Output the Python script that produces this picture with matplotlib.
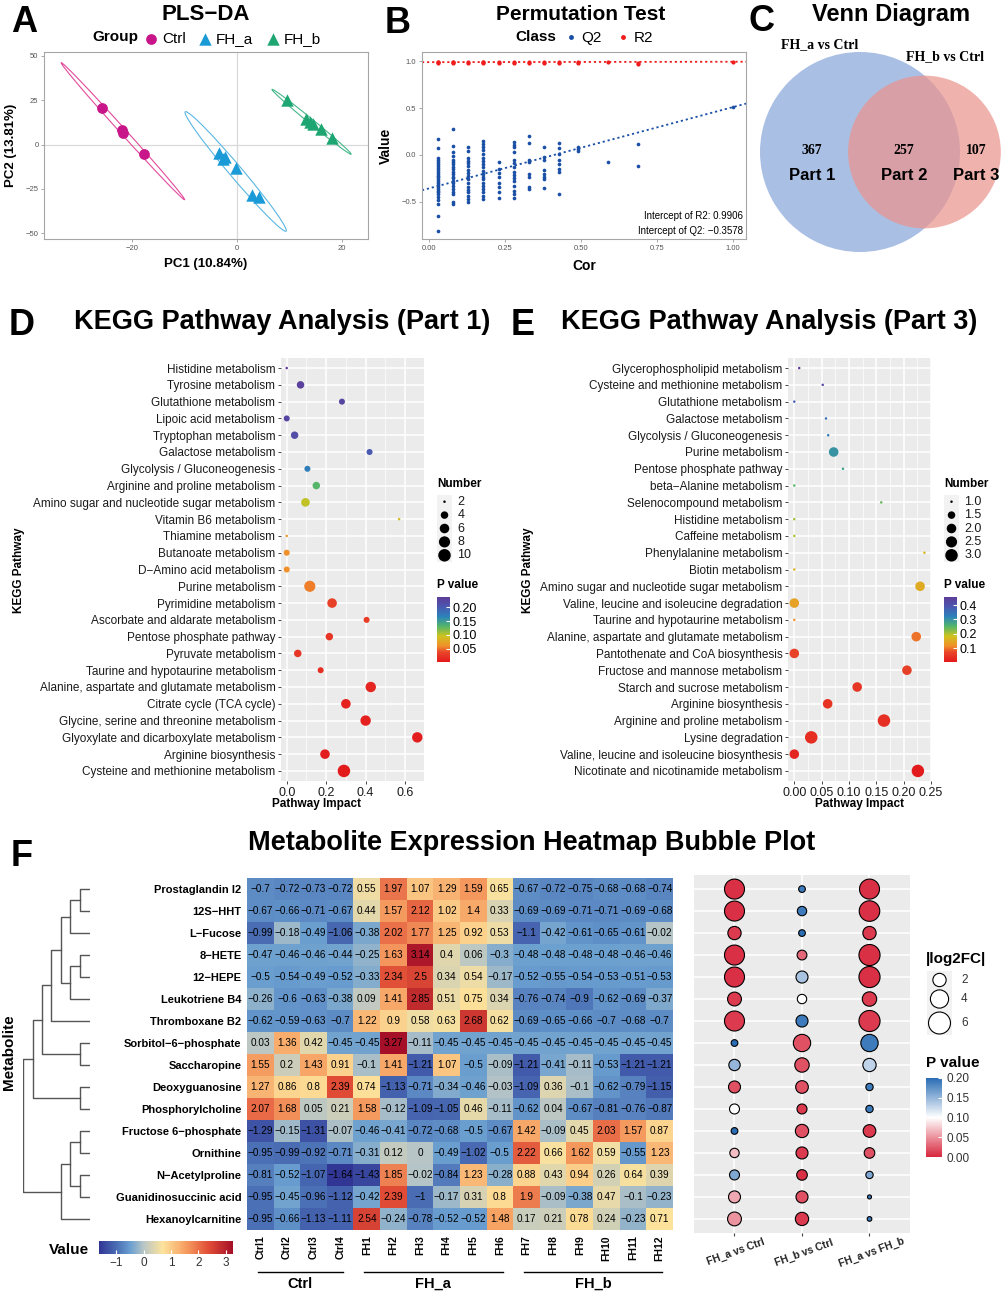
import numpy as np
import matplotlib.pyplot as plt
from matplotlib.colors import LinearSegmentedColormap, Normalize
from matplotlib.cm import ScalarMappable
from matplotlib.patches import Circle, Ellipse
from matplotlib.lines import Line2D
from matplotlib.transforms import blended_transform_factory

plt.rcParams['font.family'] = ['Liberation Sans', 'DejaVu Sans']
M = '\u2212'

# ---------------- data ----------------
# A: PLS-DA scores
ctrl_pc1 = [-25.6, -21.8, -21.7, -17.6]
ctrl_pc2 = [20.6, 8.4, 6.6, -5.6]
fha_pc1 = [-3.4, -2.6, -2.3, -0.1, 3.0, 4.2]
fha_pc2 = [-5.0, -8.2, -6.8, -13.0, -28.5, -29.5]
fhb_pc1 = [9.5, 13.2, 14.0, 14.6, 16.1, 18.1]
fhb_pc2 = [25.0, 14.6, 12.8, 11.5, 9.0, 3.9]

# B: permutation test
perm_cor = [0.03, 0.08, 0.13, 0.18, 0.23, 0.28, 0.33, 0.38, 0.43, 0.49, 0.59, 0.69, 1.00]
q2_vals = [
    [0.17, 0.07, -0.03, -0.05, -0.08, -0.1, -0.12, -0.14, -0.16, -0.18, -0.2, -0.22, -0.24,
     -0.26, -0.28, -0.3, -0.32, -0.34, -0.36, -0.38, -0.4, -0.42, -0.45, -0.48, -0.52, -0.65, -0.81],
    [0.28, 0.1, 0.03, -0.01, -0.05, -0.08, -0.1, -0.13, -0.15, -0.18, -0.2, -0.23, -0.25,
     -0.28, -0.3, -0.33, -0.36, -0.39, -0.42, -0.5, -0.52],
    [0.09, 0.04, -0.03, -0.06, -0.09, -0.12, -0.16, -0.19, -0.22, -0.26, -0.3, -0.34, -0.37,
     -0.4, -0.44, -0.47, -0.5],
    [0.15, 0.12, 0.09, 0.05, 0.01, -0.03, -0.06, -0.1, -0.13, -0.17, -0.2, -0.23, -0.26,
     -0.3, -0.33, -0.36, -0.4, -0.44, -0.47],
    [-0.08, -0.15, -0.19, -0.24, -0.3, -0.34, -0.4, -0.46],
    [0.14, 0.11, 0.08, 0.03, -0.05, -0.09, -0.13, -0.18, -0.21, -0.25, -0.28, -0.33, -0.38,
     -0.42, -0.46],
    [0.2, 0.13, -0.05, -0.08, -0.2, -0.23, -0.34, -0.36],
    [0.08, -0.02, -0.05, -0.16, -0.2, -0.23, -0.26, -0.35],
    [0.13, 0.07, 0.01, -0.05, -0.1, -0.15, -0.18, -0.42],
    [0.09, 0.06, 0.04],
    [-0.07],
    [0.12, -0.12],
    [0.51],
]
r2_vals = [[0.99, 0.985, 0.995], [0.99, 0.995, 0.985], [0.99, 0.985], [0.99, 0.98, 0.995],
           [0.99, 0.985], [0.99, 0.985], [0.99, 0.985], [0.99, 0.98], [0.99, 0.985],
           [0.985, 0.99], [0.99], [0.975, 0.985], [0.995]]
r2_intercept = 0.9906
q2_intercept = -0.3578

# C: Venn counts
only_a, both, only_b = 367, 257, 107
set_a_name, set_b_name = 'FH_a vs Ctrl', 'FH_b vs Ctrl'

# D: KEGG part 1
k1_path = ['Histidine metabolism', 'Tyrosine metabolism', 'Glutathione metabolism',
           'Lipoic acid metabolism', 'Tryptophan metabolism', 'Galactose metabolism',
           'Glycolysis / Gluconeogenesis', 'Arginine and proline metabolism',
           'Amino sugar and nucleotide sugar metabolism', 'Vitamin B6 metabolism',
           'Thiamine metabolism', 'Butanoate metabolism', 'D' + M + 'Amino acid metabolism',
           'Purine metabolism', 'Pyrimidine metabolism', 'Ascorbate and aldarate metabolism',
           'Pentose phosphate pathway', 'Pyruvate metabolism',
           'Taurine and hypotaurine metabolism', 'Alanine, aspartate and glutamate metabolism',
           'Citrate cycle (TCA cycle)', 'Glycine, serine and threonine metabolism',
           'Glyoxylate and dicarboxylate metabolism', 'Arginine biosynthesis',
           'Cysteine and methionine metabolism']
k1_impact = [0.0, 0.07, 0.28, 0.0, 0.04, 0.42, 0.105, 0.15, 0.095, 0.57, 0.0, 0.0, 0.0,
             0.117, 0.23, 0.405, 0.216, 0.056, 0.172, 0.426, 0.30, 0.40, 0.662, 0.194, 0.29]
k1_number = [2, 4, 3, 3, 4, 3, 3, 4, 5, 2, 2, 3, 3, 8, 6, 3, 4, 4, 3, 7, 6, 7, 7, 6, 10]
k1_p = [0.237, 0.23, 0.225, 0.225, 0.215, 0.2, 0.17, 0.13, 0.1, 0.09, 0.065, 0.06, 0.06,
        0.055, 0.035, 0.03, 0.025, 0.025, 0.02, 0.012, 0.01, 0.008, 0.005, 0.004, 0.002]

# E: KEGG part 3
k3_path = ['Glycerophospholipid metabolism', 'Cysteine and methionine metabolism',
           'Glutathione metabolism', 'Galactose metabolism', 'Glycolysis / Gluconeogenesis',
           'Purine metabolism', 'Pentose phosphate pathway', 'beta' + M + 'Alanine metabolism',
           'Selenocompound metabolism', 'Histidine metabolism', 'Caffeine metabolism',
           'Phenylalanine metabolism', 'Biotin metabolism',
           'Amino sugar and nucleotide sugar metabolism',
           'Valine, leucine and isoleucine degradation', 'Taurine and hypotaurine metabolism',
           'Alanine, aspartate and glutamate metabolism', 'Pantothenate and CoA biosynthesis',
           'Fructose and mannose metabolism', 'Starch and sucrose metabolism',
           'Arginine biosynthesis', 'Arginine and proline metabolism', 'Lysine degradation',
           'Valine, leucine and isoleucine biosynthesis', 'Nicotinate and nicotinamide metabolism']
k3_impact = [0.009, 0.052, 0.0, 0.058, 0.062, 0.072, 0.089, 0.0, 0.159, 0.0, 0.0, 0.238, 0.0,
             0.23, 0.0, 0.0, 0.223, 0.0, 0.206, 0.115, 0.061, 0.164, 0.031, 0.0, 0.226]
k3_number = [1, 1, 1, 1, 1, 2, 1, 1, 1, 1, 1, 1, 1, 2, 2, 1, 2, 2, 2, 2, 2, 3, 3, 2, 3]
k3_p = [0.456, 0.42, 0.38, 0.35, 0.33, 0.30, 0.28, 0.25, 0.24, 0.21, 0.2, 0.17, 0.16, 0.15,
        0.14, 0.12, 0.1, 0.07, 0.065, 0.05, 0.045, 0.04, 0.035, 0.025, 0.005]

# F: heatmap
metabolites = ['Prostaglandin I2', '12S' + M + 'HHT', 'L' + M + 'Fucose', '8' + M + 'HETE',
               '12' + M + 'HEPE', 'Leukotriene B4', 'Thromboxane B2',
               'Sorbitol' + M + '6' + M + 'phosphate', 'Saccharopine', 'Deoxyguanosine',
               'Phosphorylcholine', 'Fructose 6' + M + 'phosphate', 'Ornithine',
               'N' + M + 'Acetylproline', 'Guanidinosuccinic acid', 'Hexanoylcarnitine']
samples = ['Ctrl1', 'Ctrl2', 'Ctrl3', 'Ctrl4', 'FH1', 'FH2', 'FH3', 'FH4', 'FH5', 'FH6',
           'FH7', 'FH8', 'FH9', 'FH10', 'FH11', 'FH12']
sample_groups = ['Ctrl'] * 4 + ['FH_a'] * 6 + ['FH_b'] * 6
expr = np.array([
    [-0.7, -0.72, -0.73, -0.72, 0.55, 1.97, 1.07, 1.29, 1.59, 0.65, -0.67, -0.72, -0.75, -0.68, -0.68, -0.74],
    [-0.67, -0.66, -0.71, -0.67, 0.44, 1.57, 2.12, 1.02, 1.4, 0.33, -0.69, -0.69, -0.71, -0.71, -0.69, -0.68],
    [-0.99, -0.18, -0.49, -1.06, -0.38, 2.02, 1.77, 1.25, 0.92, 0.53, -1.1, -0.42, -0.61, -0.65, -0.61, -0.02],
    [-0.47, -0.46, -0.46, -0.44, -0.25, 1.63, 3.14, 0.4, 0.06, -0.3, -0.48, -0.48, -0.48, -0.48, -0.46, -0.46],
    [-0.5, -0.54, -0.49, -0.52, -0.33, 2.34, 2.5, 0.34, 0.54, -0.17, -0.52, -0.55, -0.54, -0.53, -0.51, -0.53],
    [-0.26, -0.6, -0.63, -0.38, 0.09, 1.41, 2.85, 0.51, 0.75, 0.34, -0.76, -0.74, -0.9, -0.62, -0.69, -0.37],
    [-0.62, -0.59, -0.63, -0.7, 1.22, 0.9, 0.58, 0.63, 2.68, 0.62, -0.69, -0.65, -0.66, -0.7, -0.68, -0.7],
    [0.03, 1.36, 0.42, -0.45, -0.45, 3.27, -0.11, -0.45, -0.45, -0.45, -0.45, -0.45, -0.45, -0.45, -0.45, -0.45],
    [1.55, 0.2, 1.43, 0.91, -0.1, 1.41, -1.21, 1.07, -0.5, -0.09, -1.21, -0.41, -0.11, -0.53, -1.21, -1.21],
    [1.27, 0.86, 0.8, 2.39, 0.74, -1.13, -0.71, -0.34, -0.46, -0.03, -1.09, 0.36, -0.1, -0.62, -0.79, -1.15],
    [2.07, 1.68, 0.05, 0.21, 1.58, -0.12, -1.09, -1.05, 0.46, -0.11, -0.62, 0.04, -0.67, -0.81, -0.76, -0.87],
    [-1.29, -0.15, -1.31, -0.07, -0.46, -0.41, -0.72, -0.68, -0.5, -0.67, 1.42, -0.09, 0.45, 2.03, 1.57, 0.87],
    [-0.95, -0.99, -0.92, -0.71, -0.31, 0.12, 0, -0.49, -1.02, -0.5, 2.22, 0.66, 1.62, 0.59, -0.55, 1.23],
    [-0.81, -0.52, -1.07, -1.64, -1.43, 1.85, -0.02, -0.84, 1.23, -0.28, 0.88, 0.43, 0.94, 0.26, 0.64, 0.39],
    [-0.95, -0.45, -0.96, -1.12, -0.42, 2.39, -1, -0.17, 0.31, 0.8, 1.9, -0.09, -0.38, 0.47, -0.1, -0.23],
    [-0.95, -0.66, -1.13, -1.11, 2.54, -0.24, -0.78, -0.52, -0.52, 1.48, 0.17, 0.21, 0.78, 0.24, -0.23, 0.71],
])
# row clustering: (child, child, height); ids >= 16 are earlier merges
dend_merges = [(0, 1, 1.0), (16, 2, 2.0), (3, 4, 1.0), (18, 5, 2.0), (17, 19, 2.9),
               (20, 6, 3.9), (7, 8, 1.0), (21, 22, 4.8), (9, 10, 1.0), (23, 24, 5.7),
               (11, 12, 1.0), (13, 14, 1.0), (26, 27, 2.0), (28, 15, 2.9), (25, 29, 6.7)]

# F: bubble comparison
comparisons = ['FH_a vs Ctrl', 'FH_b vs Ctrl', 'FH_a vs FH_b']
log2fc = np.array([
    [4.9, 0.4, 4.9], [4.9, 0.9, 5.2], [2.0, 0.4, 2.0], [4.9, 1.0, 5.5], [4.9, 1.6, 5.5],
    [2.2, 0.9, 2.4], [4.9, 1.6, 5.5], [0.4, 3.6, 3.6], [1.4, 2.4, 2.0], [1.6, 1.8, 0.5],
    [1.05, 1.05, 0.5], [0.4, 2.0, 1.8], [0.9, 1.6, 1.2], [1.05, 1.2, 0.5], [1.6, 1.6, 0.1],
    [2.2, 2.0, 0.15]])
pvals = np.array([
    [0.005, 0.19, 0.005], [0.005, 0.19, 0.005], [0.01, 0.2, 0.01], [0.005, 0.03, 0.005],
    [0.005, 0.14, 0.005], [0.01, 0.1, 0.01], [0.01, 0.19, 0.01], [0.2, 0.02, 0.19],
    [0.15, 0.02, 0.13], [0.02, 0.02, 0.19], [0.1, 0.01, 0.19], [0.2, 0.02, 0.01],
    [0.07, 0.01, 0.02], [0.16, 0.005, 0.16], [0.06, 0.02, 0.19], [0.05, 0.01, 0.19]])

# ---------------- layout helpers ----------------
W, H = 1003, 1292
fig = plt.figure(figsize=(W / 100, H / 100), dpi=100)


def box(x0, y0, x1, y1):
    return fig.add_axes([x0 / W, 1 - y1 / H, (x1 - x0) / W, (y1 - y0) / H])


def ftext(x, y, s, **kw):
    return fig.text(x / W, 1 - y / H, s, **kw)


def letter(x, y, s):
    # y is the baseline
    ftext(x, y, s, fontsize=26, fontweight='bold', ha='center', va='baseline')


# ---------------- A ----------------
axA = box(44, 52, 368, 239)
grp_col = {'Ctrl': '#c8168a', 'FH_a': '#1a9ad6', 'FH_b': '#1ea672'}
ell_col = {'Ctrl': '#e24a9c', 'FH_a': '#5ab6e2', 'FH_b': '#46b78a'}
ell_scale = {'Ctrl': 3.6, 'FH_a': 3.05, 'FH_b': 2.6}
axA.axhline(0, color='#d9d9d9', lw=0.9, zorder=0)
axA.axvline(0, color='#d9d9d9', lw=0.9, zorder=0)
for name, xs, ys, mk, s in [('Ctrl', ctrl_pc1, ctrl_pc2, 'o', 60),
                            ('FH_a', fha_pc1, fha_pc2, '^', 80),
                            ('FH_b', fhb_pc1, fhb_pc2, '^', 80)]:
    xs, ys = np.asarray(xs), np.asarray(ys)
    vals, vecs = np.linalg.eigh(np.cov(xs, ys))
    ang = np.degrees(np.arctan2(vecs[1, 1], vecs[0, 1]))
    axA.add_patch(Ellipse((xs.mean(), ys.mean()), 2 * ell_scale[name] * np.sqrt(vals[1]),
                          2 * ell_scale[name] * np.sqrt(vals[0]), angle=ang, fill=False,
                          ec=ell_col[name], lw=0.8))
    axA.scatter(xs, ys, marker=mk, s=s, color=grp_col[name], lw=0, zorder=3, label=name)
axA.set_xlim(-36.7, 25.0)
axA.set_ylim(-53.2, 52.1)
axA.set_xticks([-20, 0, 20])
axA.set_yticks([-50, -25, 0, 25, 50])
axA.tick_params(labelsize=5.5, labelcolor='#555555', color='#999999', length=2, width=0.6, pad=2)
for sp in axA.spines.values():
    sp.set_color('#a6a6a6')
    sp.set_linewidth(0.8)
axA.set_xlabel('PC1 (10.84%)', fontsize=9.5, fontweight='bold', labelpad=5)
axA.set_ylabel('PC2 (13.81%)', fontsize=9.5, fontweight='bold', labelpad=6)
fig.legend(handles=axA.collections[-3:], labels=['Ctrl', 'FH_a', 'FH_b'], loc='center left',
           bbox_to_anchor=(142 / W, 1 - 39 / H), ncol=3, frameon=False, fontsize=11,
           handletextpad=0.1, columnspacing=0.7, handlelength=1.2, borderpad=0, borderaxespad=0)
ftext(92, 37, 'Group', fontsize=11, fontweight='bold', va='center')
ftext(206, 15, 'PLS' + M + 'DA', fontsize=16, fontweight='bold', ha='center', va='center')
letter(24, 32, 'A')

# ---------------- B ----------------
axB = box(422, 52, 746, 239)
q2_col, r2_col = '#1a4fa6', '#f01c1c'
for c, vals in zip(perm_cor, q2_vals):
    axB.scatter([c] * len(vals), vals, s=7, color=q2_col, lw=0, zorder=3)
for c, vals in zip(perm_cor, r2_vals):
    axB.scatter([c] * len(vals), vals, s=9, color=r2_col, lw=0, zorder=3)
axB.axline((0, q2_intercept), (perm_cor[-1], q2_vals[-1][0]), color=q2_col, ls=(0, (1.2, 1.6)), lw=1.3)
axB.axline((0, r2_intercept), (perm_cor[-1], r2_vals[-1][0]), color=r2_col, ls=(0, (1.2, 1.6)), lw=1.3)
axB.set_xlim(-0.022, 1.044)
axB.set_ylim(-0.897, 1.099)
axB.set_xticks([0, 0.25, 0.5, 0.75, 1.0])
axB.set_xticklabels(['0.00', '0.25', '0.50', '0.75', '1.00'])
axB.set_yticks([-0.5, 0, 0.5, 1.0])
axB.set_yticklabels([M + '0.5', '0.0', '0.5', '1.0'])
axB.tick_params(labelsize=5.5, labelcolor='#555555', color='#999999', length=2, width=0.6, pad=2)
for sp in axB.spines.values():
    sp.set_color('#a6a6a6')
    sp.set_linewidth(0.8)
axB.set_xlabel('Cor', fontsize=10, fontweight='bold', labelpad=5)
axB.set_ylabel('Value', fontsize=10, fontweight='bold', labelpad=6)
axB.text(0.99, 0.125, 'Intercept of R2: %.4f' % r2_intercept, transform=axB.transAxes,
         ha='right', va='center', fontsize=7)
axB.text(0.99, 0.045, 'Intercept of Q2: ' + ('%.4f' % q2_intercept).replace('-', M),
         transform=axB.transAxes, ha='right', va='center', fontsize=7)
fig.legend(handles=[Line2D([], [], ls='', marker='o', ms=2.5, color=q2_col),
                    Line2D([], [], ls='', marker='o', ms=2.5, color=r2_col)],
           labels=['Q2', 'R2'], loc='center left', bbox_to_anchor=(563 / W, 1 - 38 / H), ncol=2,
           frameon=False, fontsize=11, handletextpad=0.2, columnspacing=0.9, handlelength=1.0,
           borderpad=0, borderaxespad=0)
ftext(536, 37, 'Class', fontsize=11, fontweight='bold', ha='center', va='center')
ftext(581, 15, 'Permutation Test', fontsize=15, fontweight='bold', ha='center', va='center')
letter(398, 33, 'B')

# ---------------- C ----------------
axC = box(740, 25, 1003, 285)
axC.set_xlim(740, 1003)
axC.set_ylim(285, 25)
axC.axis('off')
size_a, size_b = only_a + both, only_b + both
r_a = 100.0
r_b = r_a * np.sqrt(size_b / size_a)


def lens_area(d):
    c1 = np.arccos((d * d + r_a * r_a - r_b * r_b) / (2 * d * r_a))
    c2 = np.arccos((d * d + r_b * r_b - r_a * r_a) / (2 * d * r_b))
    k = np.sqrt((-d + r_a + r_b) * (d + r_a - r_b) * (d - r_a + r_b) * (d + r_a + r_b))
    return r_a * r_a * c1 + r_b * r_b * c2 - 0.5 * k


target = both / size_a * np.pi * r_a ** 2
lo, hi = r_a - r_b + 1e-6, r_a + r_b - 1e-6
for _ in range(60):
    mid = (lo + hi) / 2
    if lens_area(mid) > target:
        lo = mid
    else:
        hi = mid
dist = (lo + hi) / 2
cxa, cy = 860.0, 152.0
cxb = cxa + dist
axC.add_patch(Circle((cxa, cy), r_a, fc='#4472c4', alpha=0.45, lw=0))
axC.add_patch(Circle((cxb, cy), r_b, fc='#ea958e', alpha=0.72, lw=0))
regions = [((cxa - r_a + cxb - r_b) / 2 + 8, only_a, 'Part 1'),
           ((cxb - r_b + cxa + r_a) / 2, both, 'Part 2'),
           ((cxa + r_a + cxb + r_b) / 2 - 4, only_b, 'Part 3')]
for x, n, part in regions:
    axC.text(x, cy - 2, str(n), fontsize=10, fontweight='bold', family='Liberation Serif',
             ha='center', va='center')
    axC.text(x, cy + 24, part, fontsize=12, fontweight='bold', ha='center', va='center')
axC.text(cxa - 40, 45, set_a_name, fontsize=10, fontweight='bold', family='Liberation Serif',
         ha='center', va='center')
axC.text(cxb + 21, 57, set_b_name, fontsize=10, fontweight='bold', family='Liberation Serif',
         ha='center', va='center')
ftext(891, 15, 'Venn Diagram', fontsize=17, fontweight='bold', ha='center', va='center')
letter(762, 31, 'C')

# ---------------- D & E ----------------
kegg_cmap = LinearSegmentedColormap.from_list('kegg', [
    (0.0, '#e31a1c'), (0.15, '#e8452a'), (0.25, '#f0922a'), (0.4, '#cdc41e'),
    (0.55, '#52b56b'), (0.7, '#2b83ba'), (0.85, '#4a58b0'), (1.0, '#5e3c99')])


def dot_size(v, vmin, vmax, dmin=2.5, dmax=12.5):
    frac = (np.asarray(v, float) - vmin) / (vmax - vmin)
    return ((dmin + (dmax - dmin) * np.sqrt(frac)) * 0.72) ** 2


def kegg_panel(px, paths, impact, number, pv, xlim, xticks, xtl, xlab_x, size_lim,
               size_breaks, size_labels, cticks, ctl, leg_x, ylab_x):
    ax = box(*px)
    n = len(paths)
    norm = Normalize(min(pv), max(pv))
    ax.set_facecolor('#ebebeb')
    ax.scatter(impact, range(n), s=dot_size(number, *size_lim), c=pv, cmap=kegg_cmap,
               norm=norm, lw=0, zorder=3)
    ax.set_xlim(*xlim)
    ax.set_ylim(n - 0.4, -0.6)
    ax.set_yticks(range(n))
    ax.set_yticklabels(paths, fontsize=8.5, color='#1a1a1a')
    ax.set_xticks(xticks)
    ax.set_xticklabels(xtl, fontsize=9, color='#1a1a1a')
    mids = [(a + b) / 2 for a, b in zip(xticks[:-1], xticks[1:])]
    ax.set_xticks(mids, minor=True)
    ax.grid(True, which='major', color='white', lw=1.1)
    ax.grid(True, which='minor', axis='x', color='white', lw=0.5)
    ax.set_axisbelow(True)
    ax.tick_params(which='major', length=2.5, color='#444444', width=0.7, pad=1.5)
    ax.tick_params(which='minor', length=0)
    for sp in ax.spines.values():
        sp.set_visible(False)
    ftext(xlab_x, 804, 'Pathway Impact', fontsize=8.5, fontweight='bold', ha='center', va='center')
    ftext(ylab_x, 570, 'KEGG Pathway', fontsize=8.5, fontweight='bold', ha='center',
          va='center', rotation=90)
    # size legend
    ftext(leg_x, 484, 'Number', fontsize=8.5, fontweight='bold', va='center')
    lk = box(leg_x, 495, leg_x + 15, 562)
    lk.set_facecolor('#f2f2f2')
    lk.set_xlim(0, 1)
    lk.set_ylim(len(size_breaks) - 0.5, -0.5)
    lk.set_xticks([])
    lk.set_yticks([])
    for sp in lk.spines.values():
        sp.set_visible(False)
    lk.scatter([0.5] * len(size_breaks), range(len(size_breaks)),
               s=dot_size(size_breaks, *size_lim), color='black', lw=0)
    for i, lab in enumerate(size_labels):
        lk.text(1.35, i, lab, fontsize=9, va='center', color='#1a1a1a', clip_on=False)
    # colour legend
    ftext(leg_x, 585, 'P value', fontsize=8.5, fontweight='bold', va='center')
    cax = box(leg_x, 597, leg_x + 13, 662)
    cb = fig.colorbar(ScalarMappable(norm=norm, cmap=kegg_cmap), cax=cax)
    cb.set_ticks(cticks)
    cb.set_ticklabels(ctl)
    cb.outline.set_visible(False)
    cax.tick_params(labelsize=9, length=3, color='white', direction='in', pad=2)
    return ax


kegg_panel((281, 358, 424, 781), k1_path, k1_impact, k1_number, k1_p, (-0.029, 0.696),
           [0.0, 0.2, 0.4, 0.6], ['0.0', '0.2', '0.4', '0.6'], 317, (2, 10),
           [2, 4, 6, 8, 10], ['2', '4', '6', '8', '10'], [0.05, 0.10, 0.15, 0.20],
           ['0.05', '0.10', '0.15', '0.20'], 437, 19)
kegg_panel((788, 358, 931, 781), k3_path, k3_impact, k3_number, k3_p, (-0.0115, 0.25),
           [0.0, 0.05, 0.10, 0.15, 0.20, 0.25], ['0.00', '0.05', '0.10', '0.15', '0.20', '0.25'],
           860, (1, 3), [1.0, 1.5, 2.0, 2.5, 3.0], ['1.0', '1.5', '2.0', '2.5', '3.0'],
           [0.1, 0.2, 0.3, 0.4], ['0.1', '0.2', '0.3', '0.4'], 944, 528)
ftext(282, 322, 'KEGG Pathway Analysis (Part 1)', fontsize=19.5, fontweight='bold',
      ha='center', va='center')
ftext(769, 322, 'KEGG Pathway Analysis (Part 3)', fontsize=19.5, fontweight='bold',
      ha='center', va='center')
letter(22, 335, 'D')
letter(523, 335, 'E')

# ---------------- F: heatmap ----------------
ftext(532, 843, 'Metabolite Expression Heatmap Bubble Plot', fontsize=19.5, fontweight='bold',
      ha='center', va='center')
letter(22, 866, 'F')

vmin, vmax = expr.min(), expr.max()
hm_nodes = [(-1.64, '#313695'), (-1.0, '#4a6db4'), (-0.5, '#6a9fd0'), (0.0, '#b9c6c6'),
            (0.7, '#fde39c'), (1.5, '#f7a263'), (2.4, '#e04c36'), (3.27, '#a50f28')]
hm_cmap = LinearSegmentedColormap.from_list(
    'hm', [((v - hm_nodes[0][0]) / (hm_nodes[-1][0] - hm_nodes[0][0]), c) for v, c in hm_nodes])
axH = box(247, 878, 673, 1230)
im = axH.imshow(expr, cmap=hm_cmap, vmin=vmin, vmax=vmax, aspect='auto', interpolation='nearest')
for i in range(expr.shape[0]):
    for j in range(expr.shape[1]):
        axH.text(j, i, ('%g' % expr[i, j]).replace('-', M), ha='center', va='center',
                 fontsize=7.2, color='black')
axH.set_yticks(range(len(metabolites)))
axH.set_yticklabels(metabolites, fontsize=8, fontweight='bold')
axH.set_xticks(range(len(samples)))
axH.set_xticklabels(samples, fontsize=7.5, fontweight='bold', rotation=90)
axH.tick_params(length=0, pad=4)
for sp in axH.spines.values():
    sp.set_visible(False)
tr = blended_transform_factory(axH.transData, axH.transAxes)
for g in ['Ctrl', 'FH_a', 'FH_b']:
    idx = [k for k, s in enumerate(sample_groups) if s == g]
    axH.plot([idx[0] - 0.1, idx[-1] + 0.1], [-0.119, -0.119], color='black', lw=1.0,
             transform=tr, clip_on=False)
    axH.text((idx[0] + idx[-1]) / 2, -0.153, g, transform=tr, ha='center', va='center',
             fontsize=10.5, fontweight='bold')

# dendrogram
axD = box(23, 878, 90, 1230)
axD.set_xlim(dend_merges[-1][2], 0)
axD.set_ylim(len(metabolites) - 0.5, -0.5)
axD.axis('off')
node = {i: (0.0, float(i)) for i in range(len(metabolites))}
for k, (a, b, h) in enumerate(dend_merges):
    ha_, ya = node[a]
    hb, yb = node[b]
    axD.plot([ha_, h, h, hb], [ya, ya, yb, yb], color='#555555', lw=1.0)
    node[len(metabolites) + k] = (h, (ya + yb) / 2)
ftext(9, 1052, 'Metabolite', fontsize=11, fontweight='bold', ha='center', va='center', rotation=90)

# heatmap colour bar
cax = box(99, 1241, 233, 1254)
cb = fig.colorbar(im, cax=cax, orientation='horizontal')
cb.set_ticks([-1, 0, 1, 2, 3])
cb.set_ticklabels([M + '1', '0', '1', '2', '3'])
cb.outline.set_visible(False)
cax.tick_params(labelsize=8.5, length=3, color='white', direction='in', pad=2, labelcolor='#333333')
ftext(69, 1250, 'Value', fontsize=11, fontweight='bold', ha='center', va='center')

# ---------------- F: bubble plot ----------------
pv_cmap = LinearSegmentedColormap.from_list('pv', ['#d7263d', '#ffffff', '#2a6db5'])
pv_norm = Normalize(0, 0.2)


def fc_size(v):
    return ((1.4 + 8.4 * np.sqrt(np.asarray(v, float))) * 0.72) ** 2


axP = box(694, 875, 910, 1233)
axP.set_facecolor('#ebebeb')
nr, nc = log2fc.shape
xx, yy = np.meshgrid(range(nc), range(nr))
axP.scatter(xx.ravel(), yy.ravel(), s=fc_size(log2fc.ravel()), c=pvals.ravel(), cmap=pv_cmap,
            norm=pv_norm, edgecolors='black', linewidths=0.8, zorder=3)
axP.set_xlim(-0.6, nc - 0.4)
axP.set_ylim(nr - 0.36, -0.64)
axP.set_xticks(range(nc))
axP.set_xticklabels(comparisons, rotation=20, ha='center', va='top', rotation_mode='anchor',
                    fontsize=7.5, fontweight='bold', color='#222222')
axP.set_yticks(range(nr))
axP.set_yticklabels([])
axP.tick_params(axis='y', length=0)
axP.tick_params(axis='x', length=2.5, color='#444444', pad=8)
axP.grid(True, color='white', lw=1.1)
axP.set_axisbelow(True)
for sp in axP.spines.values():
    sp.set_visible(False)

ftext(926, 959, '|log2FC|', fontsize=11, fontweight='bold', va='center')
lk = box(927, 971, 952, 1035)
lk.set_facecolor('#f2f2f2')
lk.set_xlim(927, 952)
lk.set_ylim(1035, 971)
lk.set_xticks([])
lk.set_yticks([])
for sp in lk.spines.values():
    sp.set_visible(False)
fc_breaks = [2, 4, 6]
key_y = [980, 999, 1023]
lk.scatter([939.5] * 3, key_y, s=fc_size(fc_breaks), fc='white', ec='black', lw=0.8)
for y, v in zip(key_y, fc_breaks):
    ftext(961, y, str(v), fontsize=8.5, va='center', color='#333333')
ftext(926, 1063, 'P value', fontsize=11, fontweight='bold', va='center')
cax2 = box(926, 1078, 942, 1157)
cb2 = fig.colorbar(ScalarMappable(norm=pv_norm, cmap=pv_cmap), cax=cax2)
cb2.set_ticks([0.0, 0.05, 0.10, 0.15, 0.20])
cb2.set_ticklabels(['0.00', '0.05', '0.10', '0.15', '0.20'])
cb2.outline.set_visible(False)
cax2.tick_params(labelsize=8.5, length=3, color='white', direction='in', pad=3, labelcolor='#333333')

fig.savefig('out.png', dpi=100)
